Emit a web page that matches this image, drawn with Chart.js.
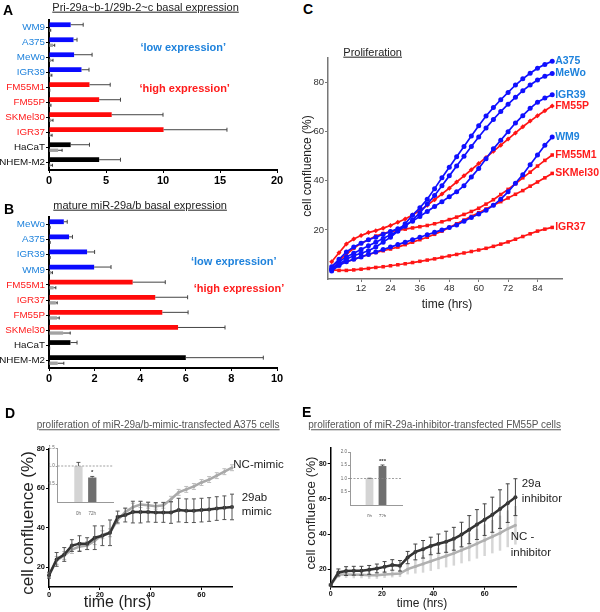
<!DOCTYPE html>
<html><head><meta charset="utf-8">
<script src="https://cdn.jsdelivr.net/npm/chart.js@4.4.1/dist/chart.umd.min.js"></script>
<style>
html,body{margin:0;padding:0;background:#fff;}
body{width:600px;height:612px;position:relative;overflow:hidden;font-family:"Liberation Sans",Arial,Helvetica,sans-serif;color:#111;}
canvas{position:absolute;}
.t{position:absolute;white-space:nowrap;line-height:1.15;}
</style></head><body>
<canvas id="cA" width="292" height="190" style="left:0;top:0"></canvas>
<canvas id="cB" width="292" height="195" style="left:0;top:195px"></canvas>
<canvas id="cC" width="300" height="290" style="left:300px;top:40px"></canvas>
<canvas id="cD" width="300" height="182" style="left:0;top:430px"></canvas>
<canvas id="cE" width="300" height="182" style="left:300px;top:430px"></canvas>
<canvas id="cDi" width="90" height="75" style="left:40px;top:440px"></canvas>
<canvas id="cEi" width="90" height="75" style="left:330px;top:442px"></canvas>
<script>
// ================= DATA =================
// Panel A : Pri-29a~b-1/29b-2~c basal expression
const aCells   = ['WM9','A375','MeWo','IGR39','FM55M1','FM55P','SKMel30','IGR37','HaCaT','NHEM-M2'];
const aGroups  = ['low','low','low','low','high','high','high','high','ctrl','ctrl'];
const aMain    = [1.9, 2.15, 2.2, 2.85, 3.55, 4.4, 5.5, 10.05, 1.9, 4.4];
const aMainErr = [1.1, 0.31, 1.58, 0.66, 1.82, 1.87, 4.5, 5.56, 1.65, 1.87];
const aGray    = [0.1, 0.35, 0.2, 0.15, 0.05, 0.12, 0.2, 0.12, 0.8, 0.12];
const aGrayErr = [0.05, 0.15, 0.15, 0.1, 0.02, 0.05, 0.15, 0.15, 0.35, 0.18];
const aTicksStep = 5, aMax = 20;

// Panel B : mature miR-29a/b basal expression
const bCells   = ['MeWo','A375','IGR39','WM9','FM55M1','IGR37','FM55P','SKMel30','HaCaT','NHEM-M2'];
const bGroups  = ['low','low','low','low','high','high','high','high','ctrl','ctrl'];
const bMain    = [0.65, 0.88, 1.67, 1.98, 3.67, 4.66, 4.97, 5.66, 0.94, 6.0];
const bMainErr = [0.15, 0.15, 0.33, 0.74, 1.43, 1.42, 1.13, 2.06, 0.29, 3.4];
const bGray    = [0.03, 0.03, 0.03, 0.1, 0.2, 0.3, 0.35, 0.62, 0.02, 0.38];
const bGrayErr = [0.02, 0.02, 0.02, 0.05, 0.1, 0.06, 0.1, 0.31, 0.01, 0.27];
const bTicksStep = 2, bMax = 10;

// Panel C : Proliferation (cell confluence %, time hrs)
const cTime   = [0,3,6,9,12,15,18,21,24,27,30,33,36,39,42,45,48,51,54,57,60,63,66,69,72,75,78,81,84,87,90];
const cA375   = [4,6,8,9.5,10.5,11.5,13,15,17,19.5,22.5,26,29,32.5,36.8,41.2,45.5,49.8,54,58.2,62.4,66.4,69.8,73,76,79,81.5,83.8,85.8,87.4,88.7];
const cMeWo   = [4,7,9,10.5,12,13.5,15,16.5,18,19.5,21.5,24,27,30.5,34,38,42,46,50,54,57.8,61.5,65,68.2,71.2,74,76.7,79,81,82.6,83.7];
const cIGR39  = [5,8,11,13,14.6,16,17,18.2,19.3,20.5,22,23.5,25.5,27.5,29.5,31.5,33.5,35.5,38,41.5,45,49,53,56.5,60,63.5,66.5,69.5,72,73.7,75];
const cFM55P  = [7,10.7,14.3,16.3,17.7,18.9,19.7,20.7,21.8,23.1,24.4,26.1,27.9,30,32.3,34.6,37,39.5,42,44.5,47,49.5,52,54.5,57,59.5,62,64.3,66.5,68.5,70.5];
const cWM9    = [3.3,5.5,7,8,9,10,11,12,13,14,15,16,17,18,19,20,21,22,23.5,25,26.5,28,30,32.5,35.5,39,42.5,46.5,50.5,54.5,57.8];
const cFM55M1 = [5,7.5,10,12.5,14.5,16,17.5,18.5,19.3,19.8,20.3,20.8,21.3,21.8,22.5,23.3,24.2,25.2,26.3,27.5,28.8,30.5,32.3,34.4,36.5,38.8,41.2,43.5,46,48.3,50.5];
const cSKMel30= [4.5,6,7,8,9,10,10.8,11.5,12.2,13,14,15,16,17,18.2,19.5,21,22.5,24,25.5,27,28.5,30,31.5,33,34.5,36,37.8,39.5,41.2,43];
const cIGR37  = [3.7,3.5,3.5,3.7,4,4.3,4.7,5,5.4,5.8,6.2,6.7,7.2,7.7,8.2,8.8,9.4,10,10.6,11.2,11.8,12.5,13.3,14.2,15.1,16.2,17.3,18.4,19.5,20.3,21];
const cNames  = ['A375','MeWo','IGR39','FM55P','WM9','FM55M1','SKMel30','IGR37'];
const cGroups = ['low','low','low','high','low','high','high','high'];
const cValues = [cA375,cMeWo,cIGR39,cFM55P,cWM9,cFM55M1,cSKMel30,cIGR37];
const cXTicks = [12,24,36,48,60,72,84];
const cYTicks = [20,40,60,80];

// Panel D : miR-29a/b-mimic-transfected A375
const dTime     = [0,3,6,9,12,15,18,21,24,27,30,33,36,39,42,45,48,51,54,57,60,63,66,69,72];
const dMimic    = [16,24,26.5,31,32,32,35,36,37.5,45.5,46.5,48,48,48,47.8,47.8,47.8,49,48.7,48.7,49,49.3,49.8,50.2,50.6];
const dMimicErr = [1.5,3.5,3.5,3,4,3,6,5,6.5,3,3.5,5.5,5.5,5,5,5,5.5,6,6,6,6,6,6,6,6.5];
const dNC       = [16,23.5,26,29,30.5,31,33.5,36.5,37.5,44,48,50.5,51.8,51.5,51,51.5,54.5,58,59.5,61,63,64.5,66.5,68.5,70.5];
const dNCErr    = [1,2,2,2,2,2,2,2,2,2,2,2,1.5,1.5,1.5,1.5,1.5,1.5,1.5,1.5,1.5,1.5,1.5,1.5,1.5];
const dXTicks = [0,20,40,60];
const dYTicks = [20,40,60,80];
const dInsetLabels = ['', '0h', '72h', ''];
const dInsetVals   = [null, 1.0, 0.68, null];
const dInsetErr    = [null, 0.1, 0.03, null];
const dInsetMarks  = ['', '', '*', ''];
const dInsetTicks  = [0.5, 1.0, 1.5];

// Panel E : miR-29a-inhibitor-transfected FM55P
const eTime    = [0,3,6,9,12,15,18,21,24,27,30,33,36,39,42,45,48,51,54,57,60,63,66,69,72];
const eInh     = [11,18.1,18.9,19.1,19.1,19.6,20.4,21.3,22.4,21.9,26.6,29.8,31.3,33.2,34.5,35.6,37.3,39.7,42.5,45.4,48.2,51,54.2,57.6,61];
const eInhErr  = [0.5,2,2.5,2.5,2.5,2.5,2.5,3,3,3,3.5,4.5,5,5,5.5,6,6.5,7,8,8.5,9,10,11,11,10.5];
const eNC      = [11,17,17,16.8,16.8,16.5,16.5,17,17.3,17.5,20,21.5,23,24.5,26,27.5,29,30.8,32.5,34.5,36.5,38.5,40.5,43,45];
const eNCErr   = [0.5,2,2,2,2,2,2,2,2,2,3,4,5,5.5,6,6.5,7,7.5,8,8.5,9,9.5,10,10.5,11];
const eXTicks = [0,20,40,60];
const eYTicks = [20,40,60,80];
const eInsetLabels = ['', '0h', '72h', ''];
const eInsetVals   = [null, 1.0, 1.47, null];
const eInsetErr    = [null, 0.01, 0.04, null];
const eInsetMarks  = ['', '', '***', ''];
const eInsetTicks  = [0.5, 1.0, 1.5, 2.0];

// ================= STYLE =================
const FONT = '"Liberation Sans", Arial, Helvetica, sans-serif';
Chart.defaults.font.family = FONT;
const barCol = {low:'#0a0aff', high:'#ff0a0a', ctrl:'#000000'};
const lblCol = {low:'#1e82dc', high:'#ff1c1c', ctrl:'#111111'};
const lineCol = {low:'#1010ff', high:'#ff1515'};

function drawErrs(chart, behind) {
  const ctx = chart.ctx;
  const horiz = chart.options.indexAxis === 'y';
  chart.data.datasets.forEach((ds, di) => {
    if (!ds.errors || (!!ds.errBehind) !== behind) return;
    const meta = chart.getDatasetMeta(di);
    const vs = chart.scales[meta.vAxisID];
    ctx.save();
    ctx.strokeStyle = ds.errColor || '#333';
    ctx.lineWidth = ds.errWidth || 1;
    const cap = ds.errCap ?? 2;
    meta.data.forEach((el, i) => {
      const raw = ds.data[i];
      const v = (raw && typeof raw === 'object') ? raw.y : raw;
      const e = ds.errors[i];
      if (v == null || e == null) return;
      ctx.beginPath();
      if (horiz) {
        const x1 = vs.getPixelForValue(v), x2 = vs.getPixelForValue(v + e), y = el.y;
        ctx.moveTo(x1, y); ctx.lineTo(x2, y);
        ctx.moveTo(x2, y - cap); ctx.lineTo(x2, y + cap);
      } else {
        const x = el.x, top = vs.getPixelForValue(v + e);
        const bot = ds.errUp ? vs.getPixelForValue(v) : vs.getPixelForValue(v - e);
        ctx.moveTo(x, top); ctx.lineTo(x, bot);
        if (cap) {
          ctx.moveTo(x - cap, top); ctx.lineTo(x + cap, top);
          if (!ds.errUp) { ctx.moveTo(x - cap, bot); ctx.lineTo(x + cap, bot); }
        }
      }
      ctx.stroke();
    });
    ctx.restore();
  });
}
const errPlugin = {id:'errs', beforeDatasetsDraw(c){drawErrs(c,true);}, afterDatasetsDraw(c){drawErrs(c,false);}};

const endLabels = {id:'endLabels', afterDatasetsDraw(chart) {
  const ctx = chart.ctx; ctx.save();
  ctx.font = 'bold 10.5px ' + FONT; ctx.textBaseline = 'middle'; ctx.textAlign = 'left';
  chart.data.datasets.forEach((ds, di) => {
    const meta = chart.getDatasetMeta(di); const p = meta.data[meta.data.length - 1];
    ctx.fillStyle = ds.labelColor; ctx.fillText(ds.label, p.x + 3, p.y);
  });
  ctx.restore();
}};

const insetDeco = {id:'insetDeco', afterDatasetsDraw(chart, args, opts) {
  const ctx = chart.ctx, a = chart.chartArea, ys = chart.scales.y;
  const y = ys.getPixelForValue(opts.ref);
  ctx.save(); ctx.strokeStyle = '#888'; ctx.lineWidth = 0.8; ctx.setLineDash([2,1.5]);
  ctx.beginPath(); ctx.moveTo(a.left, y); ctx.lineTo(a.right, y); ctx.stroke(); ctx.setLineDash([]);
  const ds = chart.data.datasets[0], meta = chart.getDatasetMeta(0);
  ctx.fillStyle = '#333'; ctx.font = 'bold 6px ' + FONT; ctx.textAlign = 'center'; ctx.textBaseline = 'bottom';
  meta.data.forEach((el, i) => {
    const s = opts.marks[i]; if (!s) return;
    const top = ys.getPixelForValue(ds.data[i] + (ds.errors[i] || 0));
    ctx.fillText(s, el.x, top - 1);
  });
  ctx.restore();
}};

const base = {responsive:false, animation:false, events:[], plugins:{legend:{display:false}, tooltip:{enabled:false}}};
function fixTicks(arr){ return function(s){ s.ticks = arr.map(v => ({value:v})); }; }

// ---------- A & B ----------
function exprChart(id, cells, groups, main, mainErr, gray, grayErr, xmax, step, pad, xh) {
  new Chart(document.getElementById(id), {
    type:'bar',
    data:{labels:cells, datasets:[
      {data:main, errors:mainErr, backgroundColor:groups.map(g => barCol[g]), barPercentage:0.85, categoryPercentage:0.74, errColor:'#444', errWidth:1, errCap:2},
      {data:gray, errors:grayErr, backgroundColor:'#a3a3a3', barPercentage:0.6, categoryPercentage:0.74, errColor:'#333', errWidth:1, errCap:1.5}
    ]},
    options:Object.assign({}, base, {
      indexAxis:'y', layout:{padding:pad},
      scales:{
        x:{type:'linear', min:0, max:xmax, ticks:{stepSize:step, font:{size:11, weight:'bold'}, color:'#000', padding:1},
           grid:{drawOnChartArea:false, tickLength:3, tickColor:'#000'}, border:{color:'#000', width:2},
           afterFit(s){ s.height = xh; }},
        y:{ticks:{font:{size:9.8}, color:(c) => lblCol[groups[c.index]], padding:1, autoSkip:false},
           grid:{drawOnChartArea:false, offset:false, tickLength:3, tickColor:'#000'}, border:{color:'#000', width:2},
           afterFit(s){ s.width = 49; }}
      }
    }),
    plugins:[errPlugin]
  });
}
exprChart('cA', aCells, aGroups, aMain, aMainErr, aGray, aGrayErr, aMax, aTicksStep, {left:0,right:15,top:20,bottom:0}, 20);
exprChart('cB', bCells, bGroups, bMain, bMainErr, bGray, bGrayErr, bMax, bTicksStep, {left:0,right:15,top:22,bottom:0}, 22);

// ---------- C ----------
new Chart(document.getElementById('cC'), {
  type:'line',
  data:{datasets: cNames.map((n, k) => ({
    label:n, labelColor:lblCol[cGroups[k]],
    data:cValues[k].map((v, i) => ({x:cTime[i], y:v})),
    borderColor:lineCol[cGroups[k]], backgroundColor:lineCol[cGroups[k]], borderWidth:1.7,
    pointRadius:2.5, pointBorderWidth:0,
    pointStyle: cGroups[k] === 'low' ? 'circle' : (n === 'FM55P' ? 'rectRot' : 'rect'),
    clip:false
  }))},
  options:Object.assign({}, base, {
    layout:{padding:{left:0,right:38,top:18,bottom:0}},
    scales:{
      x:{type:'linear', min:-1.5, max:94, afterBuildTicks:fixTicks(cXTicks),
         ticks:{font:{size:9.5}, color:'#333', padding:1, autoSkip:false, maxRotation:0},
         grid:{drawOnChartArea:false, tickLength:3, tickColor:'#777'}, border:{color:'#777', width:1.5},
         afterFit(s){ s.height = 51; }},
      y:{type:'linear', min:0, max:90, afterBuildTicks:fixTicks(cYTicks),
         ticks:{font:{size:9.5}, color:'#333', padding:1},
         grid:{drawOnChartArea:false, tickLength:3, tickColor:'#777'}, border:{color:'#777', width:1.5},
         afterFit(s){ s.width = 28; }}
    }
  }),
  plugins:[endLabels]
});

// ---------- D & E ----------
function growthChart(id, time, series, xmax, ymin, ymax, xt, yt, pad, yw, xh, fs) {
  new Chart(document.getElementById(id), {
    type:'line',
    data:{datasets: series.map(s => ({
      label:s.label, data:s.vals.map((v, i) => ({x:time[i], y:v})), errors:s.errs,
      borderColor:s.col, backgroundColor:s.col, borderWidth:2.5, pointRadius:s.pr, pointBorderWidth:0,
      errColor:s.ecol, errWidth:s.ew, errCap:s.cap, errBehind:s.behind, clip:false
    }))},
    options:Object.assign({}, base, {
      layout:{padding:pad},
      scales:{
        x:{type:'linear', min:0, max:xmax, afterBuildTicks:fixTicks(xt),
           ticks:{font:{size:fs, weight:'bold'}, color:'#111', padding:0, autoSkip:false, maxRotation:0},
           grid:{drawOnChartArea:false, tickLength:3, tickColor:'#000'}, border:{color:'#000', width:1.5},
           afterFit(s){ s.height = xh; }},
        y:{type:'linear', min:ymin, max:ymax, afterBuildTicks:fixTicks(yt),
           ticks:{font:{size:fs, weight:'bold'}, color:'#111', padding:1},
           grid:{drawOnChartArea:false, tickLength:3, tickColor:'#000'}, border:{color:'#000', width:1.5},
           afterFit(s){ s.width = yw; }}
      }
    }),
    plugins:[errPlugin]
  });
}
growthChart('cD', dTime, [
  {label:'29ab mimic', vals:dMimic, errs:dMimicErr, col:'#333333', pr:2, ecol:'#555', ew:1, cap:2, behind:false},
  {label:'NC-mimic', vals:dNC, errs:dNCErr, col:'#a9a9a9', pr:1.5, ecol:'#bdbdbd', ew:1, cap:2, behind:true}
], 72, 10, 80, dXTicks, dYTicks, {left:0,right:68,top:19,bottom:0}, 49, 25, 7.5);
growthChart('cE', eTime, [
  {label:'29a inhibitor', vals:eInh, errs:eInhErr, col:'#333333', pr:2, ecol:'#444', ew:1, cap:2, behind:false},
  {label:'NC-inhibitor', vals:eNC, errs:eNCErr, col:'#b0b0b0', pr:1.5, ecol:'#d6d6d6', ew:2.5, cap:0, behind:true}
], 72.5, 10, 89, eXTicks, eYTicks, {left:0,right:83.3,top:18,bottom:0}, 30.7, 25.3, 7);

// ---------- insets ----------
function insetChart(id, labels, vals, errs, marks, ymax, yt, pad, yw, xh) {
  new Chart(document.getElementById(id), {
    type:'bar',
    data:{labels:labels, datasets:[{data:vals, errors:errs, backgroundColor:['#fff','#d4d4d4','#6f6f6f','#fff'],
      barPercentage:0.6, categoryPercentage:1, errColor:'#333', errWidth:0.8, errCap:2, errUp:true}]},
    options:Object.assign({}, base, {
      layout:{padding:pad},
      plugins:{legend:{display:false}, tooltip:{enabled:false}, insetDeco:{ref:1, marks:marks}},
      scales:{
        x:{ticks:{font:{size:4.5}, color:'#666', padding:1, autoSkip:false, maxRotation:0},
           grid:{display:false}, border:{color:'#999', width:1}, afterFit(s){ s.height = xh; }},
        y:{min:0, max:ymax, afterBuildTicks:fixTicks(yt),
           ticks:{font:{size:4.5}, color:'#666', padding:1, callback:v => v.toFixed(1)},
           grid:{drawOnChartArea:false, tickLength:2, tickColor:'#999'}, border:{color:'#999', width:1},
           afterFit(s){ s.width = yw; }}
      }
    }),
    plugins:[errPlugin, insetDeco]
  });
}
insetChart('cDi', dInsetLabels, dInsetVals, dInsetErr, dInsetMarks, 1.5, dInsetTicks, {left:0,right:17,top:8,bottom:0}, 17.7, 13);
insetChart('cEi', eInsetLabels, eInsetVals, eInsetErr, eInsetMarks, 2.0, eInsetTicks, {left:0,right:18,top:10,bottom:0}, 20, 12);

// ================= TEXT =================
function txt(s, x, y, css, anchor, rot) {
  const d = document.createElement('div');
  d.className = 't'; d.textContent = s; d.style.cssText = css;
  d.style.left = x + 'px'; d.style.top = y + 'px';
  let tr = anchor === 'c' ? 'translate(-50%,-50%)' : anchor === 'r' ? 'translate(-100%,-50%)' : 'translate(0,-50%)';
  if (rot) tr += ' rotate(-90deg)';
  d.style.transform = tr;
  document.body.appendChild(d);
}
const L = 'font-weight:bold;font-size:14px;color:#000;';
txt('A', 3, 10, L); txt('B', 4, 208.5, L); txt('C', 303, 9, L); txt('D', 5, 413, L); txt('E', 302, 412, L);
const T = 'font-size:11px;color:#222;text-decoration:underline;';
txt('Pri-29a~b-1/29b-2~c basal expression', 52.3, 7, T);
txt('mature miR-29a/b basal expression', 53.3, 205, T);
txt('Proliferation', 343.3, 52, T);
const T2 = 'font-size:10px;color:#555;text-decoration:underline;';
txt('proliferation of miR-29a/b-mimic-transfected A375 cells', 36.7, 425, T2);
txt('proliferation of miR-29a-inhibitor-transfected FM55P cells', 308.3, 425, T2);
const LO = 'font-weight:bold;font-size:11px;color:#1e82dc;', HI = 'font-weight:bold;font-size:11px;color:#ff1c1c;';
txt('\u2018low expression\u2019', 183.3, 47, LO, 'c');
txt('\u2018high expression\u2019', 184.7, 88, HI, 'c');
txt('\u2018low expression\u2019', 233.8, 261, LO, 'c');
txt('\u2018high expression\u2019', 239, 288.3, HI, 'c');
txt('cell confluence (%)', 308, 166, 'font-size:12px;color:#222;', 'c', true);
txt('time (hrs)', 447, 305, 'font-size:12px;color:#222;', 'c');
txt('cell confluence (%)', 28.3, 523, 'font-size:17px;color:#222;', 'c', true);
txt('time (hrs)', 117.5, 601.7, 'font-size:16px;color:#222;', 'c');
txt('cell confluence (%)', 311, 513, 'font-size:13.4px;color:#222;', 'c', true);
txt('time (hrs)', 422, 604, 'font-size:12px;color:#222;', 'c');
const S = 'font-size:11.5px;color:#222;';
txt('NC-mimic', 233.3, 465, S); txt('29ab', 241.7, 498, S); txt('mimic', 241.7, 512, S);
txt('29a', 521.7, 484, S); txt('inhibitor', 521.7, 499, S);
txt('NC -', 510.7, 537, S); txt('inhibitor', 510.7, 553, S);
</script>
</body></html>
